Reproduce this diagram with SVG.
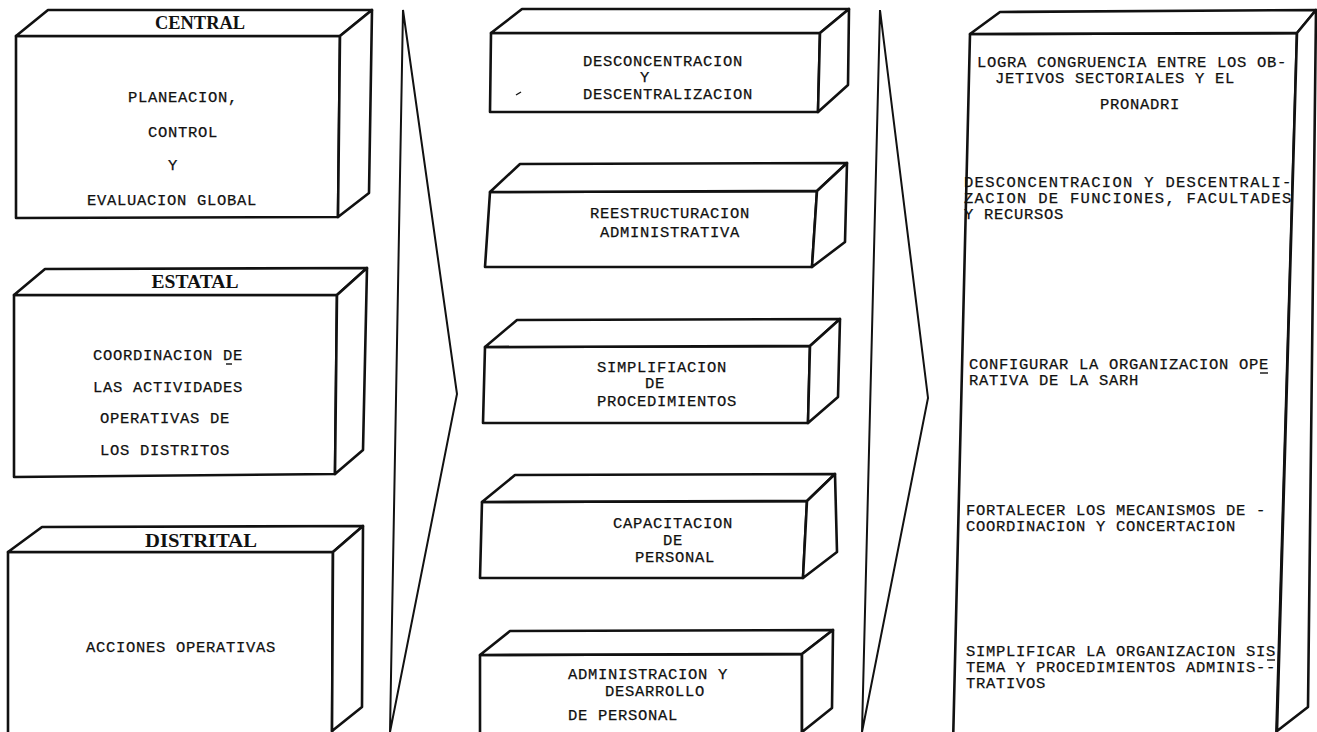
<svg xmlns="http://www.w3.org/2000/svg" width="1317" height="732" viewBox="0 0 1317 732">
<style>
.box polygon{fill:#fff;stroke:#111;stroke-width:2.6;stroke-linejoin:round}
.t{font-family:"Liberation Mono","DejaVu Sans Mono",monospace;font-size:15.5px;letter-spacing:0.7px;fill:#111;stroke:#111;stroke-width:0.25}
.h{font-family:"Liberation Serif","DejaVu Serif",serif;font-weight:bold;font-size:19px;fill:#111;text-anchor:middle}
.arrow{fill:none;stroke:#111;stroke-width:2;stroke-linejoin:miter}
.mark{stroke:#111;stroke-width:1.4}
</style>
<rect width="1317" height="732" fill="#fff"/>
<g id="connectors">
<polygon class="arrow" points="403,10 457,394 390,732"/>
<polygon class="arrow" points="880,10 928,398 862,732"/>
</g>
<g id="central" class="box">
<polygon points="16,36 340,36 338,217 16,218"/>
<polygon points="16,36 48,10 372,10 340,36"/>
<polygon points="340,36 372,10 369,193 338,217"/>
<text class="h" x="200" y="29" textLength="90" lengthAdjust="spacingAndGlyphs">CENTRAL</text>
<text class="t" x="128" y="102">PLANEACION,</text>
<text class="t" x="148" y="137">CONTROL</text>
<text class="t" x="168" y="170">Y</text>
<text class="t" x="87" y="205">EVALUACION GLOBAL</text>
</g>
<g id="estatal" class="box">
<polygon points="14,295 337,295 335,474 14,477"/>
<polygon points="14,295 45,269 367,268 337,295"/>
<polygon points="337,295 367,268 363,450 335,474"/>
<text class="h" x="195" y="288" textLength="87" lengthAdjust="spacingAndGlyphs">ESTATAL</text>
<text class="t" x="93" y="360">COORDINACION DE</text>
<line class="mark" x1="226" y1="364" x2="232" y2="364"/>
<text class="t" x="93" y="392">LAS ACTIVIDADES</text>
<text class="t" x="100" y="423">OPERATIVAS DE</text>
<text class="t" x="100" y="455">LOS DISTRITOS</text>
</g>
<g id="distrital" class="box">
<polygon points="8,552 333,552 332,745 8,745"/>
<polygon points="8,552 42,527 363,526 333,552"/>
<polygon points="333,552 363,526 362,707 332,731"/>
<text class="h" x="201" y="547" textLength="112" lengthAdjust="spacingAndGlyphs">DISTRITAL</text>
<text class="t" x="86" y="652">ACCIONES OPERATIVAS</text>
</g>
<g id="desconcentracion" class="box">
<polygon points="491,33 820,33 818,112 490,112"/>
<polygon points="491,33 522,9 849,9 820,33"/>
<polygon points="820,33 849,9 848,85 818,112"/>
<text class="t" x="583" y="66">DESCONCENTRACION</text>
<text class="t" x="640" y="82">Y</text>
<text class="t" x="583" y="99">DESCENTRALIZACION</text>
<path class="mark" d="M516,95 L521,92"/>
</g>
<g id="reestructuracion" class="box">
<polygon points="490,192 817,191 812,267 485,267"/>
<polygon points="490,192 520,164 847,163 817,191"/>
<polygon points="817,191 847,163 845,242 812,267"/>
<text class="t" x="590" y="218">REESTRUCTURACION</text>
<text class="t" x="600" y="237">ADMINISTRATIVA</text>
</g>
<g id="simplificacion" class="box">
<polygon points="485,347 810,346 808,423 483,423"/>
<polygon points="485,347 517,320 840,319 810,346"/>
<polygon points="810,346 840,319 838,397 808,423"/>
<text class="t" x="597" y="372">SIMPLIFIACION</text>
<text class="t" x="645" y="388">DE</text>
<text class="t" x="597" y="406">PROCEDIMIENTOS</text>
</g>
<g id="capacitacion" class="box">
<polygon points="482,502 807,501 803,578 480,578"/>
<polygon points="482,502 515,475 835,474 807,501"/>
<polygon points="807,501 835,474 837,552 803,578"/>
<text class="t" x="613" y="528">CAPACITACION</text>
<text class="t" x="663" y="545">DE</text>
<text class="t" x="635" y="562">PERSONAL</text>
</g>
<g id="administracion" class="box">
<polygon points="480,655 802,654 802,745 480,745"/>
<polygon points="480,655 510,631 833,630 802,654"/>
<polygon points="802,654 833,630 832,708 802,732"/>
<text class="t" x="568" y="679">ADMINISTRACION Y</text>
<text class="t" x="605" y="696">DESARROLLO</text>
<text class="t" x="568" y="720">DE PERSONAL</text>
</g>
<g id="objetivos" class="box">
<polygon points="970,34 1297,33 1276,745 953,745"/>
<polygon points="970,34 1000,12 1316,10 1297,33"/>
<polygon points="1297,33 1316,10 1308,707 1277,731"/>
<text class="t" x="977" y="67">LOGRA CONGRUENCIA ENTRE LOS OB-</text>
<text class="t" x="995" y="83">JETIVOS SECTORIALES Y EL</text>
<text class="t" x="1100" y="109">PRONADRI</text>
<text class="t" x="964" y="187" textLength="328" lengthAdjust="spacing">DESCONCENTRACION Y DESCENTRALI-</text>
<text class="t" x="964" y="203" textLength="328" lengthAdjust="spacing">ZACION DE FUNCIONES, FACULTADES</text>
<text class="t" x="964" y="219">Y RECURSOS</text>
<text class="t" x="969" y="369">CONFIGURAR LA ORGANIZACION OPE</text>
<line class="mark" x1="1260" y1="373" x2="1268" y2="373"/>
<text class="t" x="969" y="385">RATIVA DE LA SARH</text>
<text class="t" x="966" y="515">FORTALECER LOS MECANISMOS DE -</text>
<text class="t" x="966" y="531">COORDINACION Y CONCERTACION</text>
<text class="t" x="966" y="656">SIMPLIFICAR LA ORGANIZACION SIS</text>
<line class="mark" x1="1267" y1="660" x2="1275" y2="660"/>
<text class="t" x="966" y="672">TEMA Y PROCEDIMIENTOS ADMINIS--</text>
<text class="t" x="966" y="688">TRATIVOS</text>
</g>
</svg>
